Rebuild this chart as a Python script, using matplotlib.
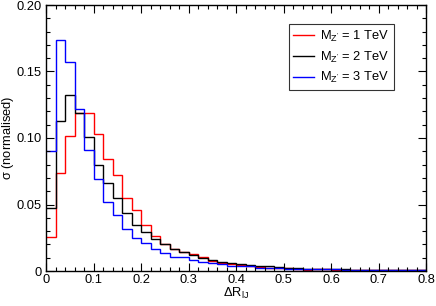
import matplotlib
matplotlib.use("Agg")
import matplotlib.pyplot as plt
import numpy as np
from matplotlib.ticker import MultipleLocator

plt.rcParams['font.family'] = ['Liberation Sans', 'DejaVu Sans']
plt.rcParams['mathtext.fontset'] = 'custom'
plt.rcParams['mathtext.rm'] = 'Liberation Sans'
plt.rcParams['mathtext.it'] = 'Liberation Sans'

# bin edges in Delta R, 0.02 wide
edges = np.linspace(0.0, 0.8, 41)

labels = [r'M$_{\rm Z^{\prime}}$ = 1 TeV', r'M$_{\rm Z^{\prime}}$ = 2 TeV', r'M$_{\rm Z^{\prime}}$ = 3 TeV']
colors = ['red', 'black', 'blue']

m1 = [0.0256, 0.074, 0.1017, 0.119, 0.1186, 0.103, 0.084, 0.0724, 0.055, 0.0459,
      0.0346, 0.0263, 0.0205, 0.0163, 0.0145, 0.0125, 0.0105, 0.0075, 0.006, 0.0053,
      0.0045, 0.0035, 0.0033, 0.0025, 0.0025, 0.002, 0.0015, 0.0005, 0.0012, 0.0012,
      0.001, 0.001, 0.0009, 0.0008, 0.0008, 0.0007, 0.0006, 0.0005, 0.0005, 0.0004]
m2 = [0.047, 0.113, 0.132, 0.1186, 0.1005, 0.080, 0.0664, 0.055, 0.0434, 0.0343,
      0.0296, 0.024, 0.0205, 0.0165, 0.014, 0.012, 0.0098, 0.008, 0.0065, 0.0058,
      0.0053, 0.0043, 0.0038, 0.0035, 0.0033, 0.0025, 0.0022, 0.0018, 0.0017, 0.0015,
      0.0013, 0.0012, 0.0011, 0.001, 0.0009, 0.0008, 0.0007, 0.0006, 0.0006, 0.0005]
m3 = [0.0905, 0.174, 0.157, 0.122, 0.0907, 0.069, 0.052, 0.042, 0.0316, 0.025,
      0.021, 0.0165, 0.0132, 0.0108, 0.0103, 0.0083, 0.007, 0.0058, 0.0053, 0.004,
      0.004, 0.004, 0.0025, 0.002, 0.0019, 0.0017, 0.0015, 0.0015, 0.0014, 0.0013,
      0.0012, 0.0011, 0.001, 0.001, 0.0009, 0.0008, 0.0007, 0.0007, 0.0006, 0.0005]

fig = plt.figure(figsize=(4.36, 3.06), dpi=100)
ax = fig.add_axes([46 / 436, 1 - 271 / 306, 380 / 436, 266 / 306])

for vals, c, lab in zip([m1, m2, m3], colors, labels):
    ax.stairs(vals, edges, color=c, lw=1.0, label=lab, baseline=None)

ax.set_xlim(0, 0.8)
ax.set_ylim(0, 0.2)
ax.xaxis.set_major_locator(MultipleLocator(0.1))
ax.xaxis.set_minor_locator(MultipleLocator(0.02))
ax.yaxis.set_major_locator(MultipleLocator(0.05))
ax.yaxis.set_minor_locator(MultipleLocator(0.01))
ax.xaxis.set_major_formatter(plt.FuncFormatter(lambda v, p: '0' if abs(v) < 1e-9 else '%.1f' % v))
ax.yaxis.set_major_formatter(plt.FuncFormatter(lambda v, p: '0' if abs(v) < 1e-9 else '%.2f' % v))
ax.tick_params(which='both', direction='in', top=True, right=True, labelsize=9.3)
ax.tick_params(axis='y', pad=3)
ax.tick_params(axis='x', pad=2)
ax.tick_params(which='major', length=6, width=0.8)
ax.tick_params(which='minor', length=3, width=0.8)
for s in ax.spines.values():
    s.set_linewidth(1.0)

ax.set_xlabel(r'$\Delta$R$_{\rm lJ}$', fontsize=9.3, labelpad=0)
ax.set_ylabel(r'$\sigma$ (normalised)', fontsize=9.3, labelpad=0.5)

leg = ax.legend(loc='upper right', bbox_to_anchor=((394 - 46) / 380, (271 - 24) / 266),
                bbox_transform=ax.transAxes, fontsize=9.3, frameon=True, fancybox=False,
                handlelength=1.6, handletextpad=0.5, borderpad=0.35, labelspacing=0.45,
                borderaxespad=0)
leg.get_frame().set_edgecolor('black')
leg.get_frame().set_linewidth(0.8)

fig.savefig('out.png', dpi=100)
